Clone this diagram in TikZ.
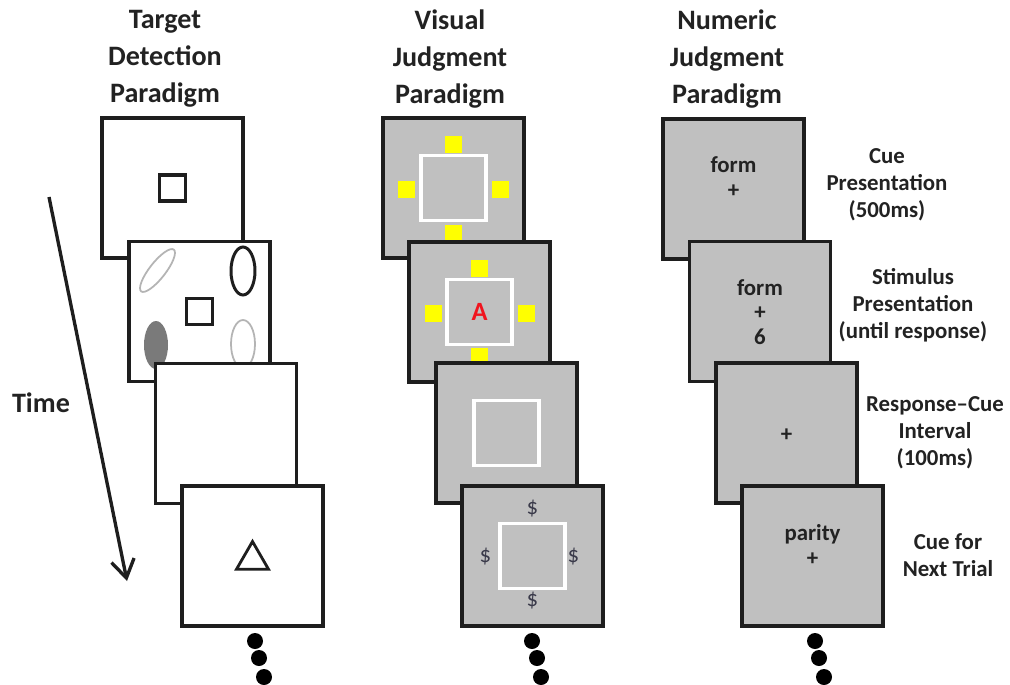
\documentclass[tikz,border=0pt]{standalone}
\usepackage{fontspec}
\setmainfont{Carlito}
\usepackage{xcolor}
\usetikzlibrary{arrows.meta,positioning,calc,shapes.geometric}
\definecolor{FrameBlack}{HTML}{1E1E1E}
\definecolor{ScreenGray}{HTML}{C0C0C0}
\definecolor{CueYellow}{HTML}{FFFF00}
\definecolor{LetterRed}{HTML}{F0141E}
\definecolor{InkGray}{HTML}{222222}
\definecolor{DollarGray}{HTML}{3A3A4A}
\definecolor{FaintGray}{HTML}{B4B4B4}
\definecolor{BlobGray}{HTML}{7A7A7A}
\tikzset{
  screen/.style={draw=FrameBlack, fill=white, line width=2pt, inner sep=0pt, minimum width=2.82cm, minimum height=2.8cm},
  grayscreen/.style={screen, fill=ScreenGray},
  frame/.style={draw=white, line width=2pt, inner sep=0pt, minimum size=1.3cm},
  marker/.style={fill=CueYellow, inner sep=0pt, minimum size=0.34cm},
  probe/.style={draw=FrameBlack, line width=1.9pt, inner sep=0pt, minimum size=0.52cm},
  blob/.style={ellipse, inner sep=0pt, minimum width=0.48cm, minimum height=0.96cm},
  dot/.style={circle, fill=black, inner sep=0pt, minimum size=0.32cm},
  heading/.style={align=center, text=InkGray, font=\fontsize{16}{21}\selectfont\bfseries},
  phase/.style={align=center, text=InkGray, font=\fontsize{13}{15.4}\selectfont\bfseries},
  cue/.style={align=center, text=InkGray, font=\fontsize{13}{14}\selectfont\bfseries},
  dollar/.style={text=DollarGray, font=\fontsize{13}{14}\selectfont},
  timearrow/.style={-{Straight Barb[length=3.6mm, width=4.6mm]}, line width=1.9pt, draw=FrameBlack}
}
\begin{document}
\begin{tikzpicture}[x=0.02cm, y=-0.02cm]
\useasboundingbox (0,0) rectangle (1010,684);

\node[heading] (tdhead) at (165,59) {Target\\Detection\\Paradigm};
\node[heading] (vjhead) at (450,59) {Visual\\Judgment\\Paradigm};
\node[heading] (njhead) at (727,59) {Numeric\\Judgment\\Paradigm};

\node[heading] (time) at (41,403) {Time};
\coordinate (tstart) at (49,197);
\coordinate (tend) at (127,581);
\draw[timearrow] (tstart) -- (tend);

\node[screen] (td1) at (172.5,188) {};
\node[probe] (tdsq1) at (td1) {};
\node[screen] (td2) at (199.5,311.5) {};
\node[blob, draw=FaintGray, line width=1pt, minimum width=0.32cm, minimum height=1.06cm, rotate=-38] (el1) at (157.5,270.5) {};
\node[blob, draw=FrameBlack, line width=1.7pt] (el2) at (243,271) {};
\node[blob, fill=BlobGray] (el3) at (156,345) {};
\node[blob, draw=FaintGray, line width=1pt] (el4) at (243,344) {};
\node[probe] (tdsq2) at (td2) {};
\node[screen] (td3) at (226,433.5) {};
\node[screen] (td4) at (252.5,556) {};
\node[regular polygon, regular polygon sides=3, draw=FrameBlack, line width=1.6pt, inner sep=0pt, minimum size=0.74cm] (tri) at (252.5,560) {};

\node[grayscreen] (vj1) at (453.5,188) {};
\node[marker] (y1t) at (453.5,144) {};
\node[marker] (y1l) at (406.5,189) {};
\node[marker] (y1r) at (500,189) {};
\node[marker] (y1b) at (453.5,233) {};
\node[frame] (fr1) at (vj1) {};
\node[grayscreen] (vj2) at (479.5,312) {};
\node[marker] (y2t) at (479.5,268) {};
\node[marker] (y2l) at (433,313) {};
\node[marker] (y2r) at (526,313) {};
\node[marker] (y2b) at (479.5,356) {};
\node[frame] (fr2) at (vj2) {};
\node[text=LetterRed, font=\fontsize{15}{16}\selectfont\bfseries] (letter) at (vj2) {A};
\node[grayscreen] (vj3) at (506.5,433) {};
\node[frame] (fr3) at (vj3) {};
\node[grayscreen] (vj4) at (532.5,556) {};
\node[frame] (fr4) at (vj4) {};
\node[dollar] (d1) at (532.5,509) {\$};
\node[dollar] (d2) at (485.5,557) {\$};
\node[dollar] (d3) at (573.5,557) {\$};
\node[dollar] (d4) at (532.5,601) {\$};

\node[grayscreen] (nj1) at (733.5,189) {};
\node[cue] (c1) at (733.5,177) {form\\+};
\node[grayscreen] (nj2) at (760,311.5) {};
\node[cue] (c2) at (760,312) {form\\+\\6};
\node[grayscreen] (nj3) at (786.5,433) {};
\node[cue] (c3) at (786.5,435) {+};
\node[grayscreen] (nj4) at (812.5,556) {};
\node[cue] (c4) at (812.5,545) {parity\\+};

\node[phase] (p1) at (887,185) {Cue\\Presentation\\(500ms)};
\node[phase] (p2) at (913,305) {Stimulus\\Presentation\\(until response)};
\node[phase] (p3) at (935,433) {Response–Cue\\Interval\\(100ms)};
\node[phase] (p4) at (948,555) {Cue for\\Next Trial};

\node[dot] (tddot1) at (255,641) {};
\node[dot] (tddot2) at (259,658) {};
\node[dot] (tddot3) at (264,677) {};
\node[dot] (vjdot1) at (532,641) {};
\node[dot] (vjdot2) at (537,658) {};
\node[dot] (vjdot3) at (541,677) {};
\node[dot] (njdot1) at (815,641) {};
\node[dot] (njdot2) at (819,658) {};
\node[dot] (njdot3) at (824,677) {};
\end{tikzpicture}
\end{document}
